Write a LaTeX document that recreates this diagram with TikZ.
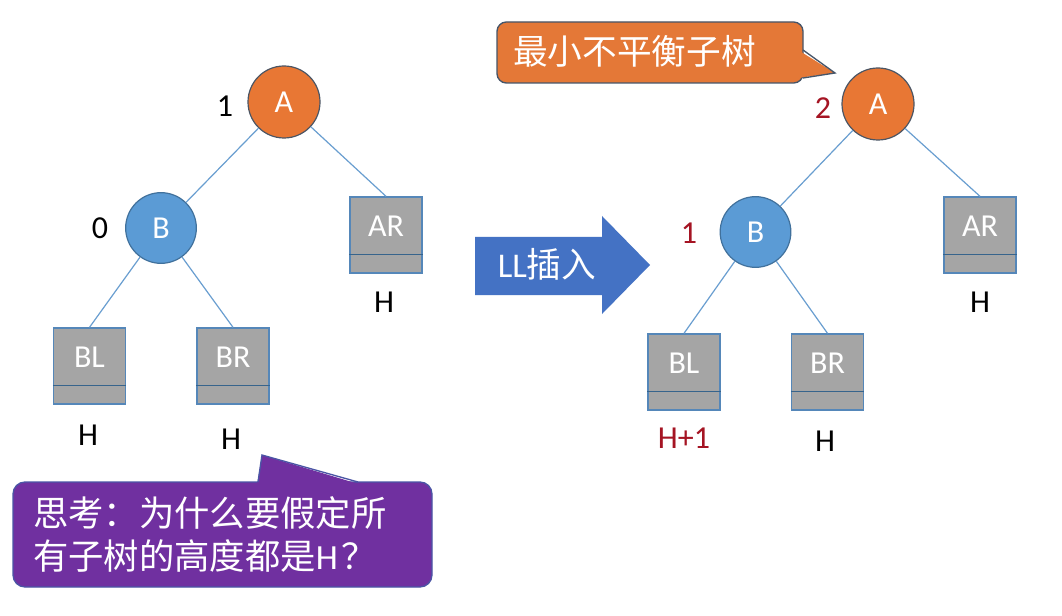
\documentclass[tikz,border=0pt]{standalone}
\usepackage{fontspec}
\setmainfont{Carlito}
\newfontfamily\cjk{Noto Sans CJK SC}
\usetikzlibrary{positioning}
\definecolor{orfill}{RGB}{232,119,52}
\definecolor{orline}{RGB}{75,85,100}
\definecolor{blfill}{RGB}{91,155,213}
\definecolor{blline}{RGB}{65,113,156}
\definecolor{grfill}{RGB}{165,165,165}
\definecolor{grline}{RGB}{85,135,185}
\definecolor{divline}{RGB}{55,100,140}
\definecolor{edgecol}{RGB}{105,158,208}
\definecolor{arrfill}{RGB}{68,114,196}
\definecolor{purfill}{RGB}{112,48,160}
\definecolor{purline}{RGB}{75,85,165}
\definecolor{darkred}{RGB}{165,20,35}
\definecolor{callor}{RGB}{228,120,55}
\definecolor{callorline}{RGB}{70,85,105}
\tikzset{
  lbl/.style={font=\fontsize{24}{28}\selectfont, inner sep=0pt},
  nodeA/.style={circle, draw=orline, line width=0.9pt, fill=orfill, minimum size=54pt, inner sep=0pt, text=white, font=\fontsize{24}{28}\selectfont},
  nodeB/.style={circle, draw=blline, line width=0.9pt, fill=blfill, minimum size=53pt, inner sep=0pt, text=white, font=\fontsize{24}{28}\selectfont},
  sbox/.style={rectangle, draw=grline, line width=1pt, fill=grfill, minimum width=54pt, minimum height=57pt, inner sep=0pt},
  boxtxt/.style={text=white, font=\fontsize{24}{28}\selectfont, inner sep=0pt},
  divider/.style={draw=divline, line width=1pt},
  edge/.style={draw=edgecol, line width=0.9pt},
}
\newcommand{\subtree}[3]{%
  \node[sbox] (#1) at (#2) {};
  \node[boxtxt] (#1t) at ([yshift=6.9pt]#1.center) {#3};
  \draw[divider] ([yshift=14.25pt]#1.south west) -- ([yshift=14.25pt]#1.south east);
}
\begin{document}
\begin{tikzpicture}[x=0.75pt,y=-0.75pt]
\useasboundingbox (0,0) rectangle (1062,616);
\fill[white] (0,0) rectangle (1062,616);

% ---------- left tree ----------
\node[nodeA] (A1) at (284,102) {A};
\node[nodeB] (B1) at (161,228) {B};
\subtree{AR1}{386,235}{AR}
\subtree{BL1}{89.5,366}{BL}
\subtree{BR1}{233,366}{BR}
\draw[edge] (A1) -- (B1);
\draw[edge] (A1) -- (AR1.north);
\draw[edge] (B1) -- (BL1.north);
\draw[edge] (B1) -- (BR1.north);
\node[lbl] (bfA1) at (225,106) {1};
\node[lbl] (bfB1) at (100,228) {0};
\node[lbl] (hAR1) at (384,302) {H};
\node[lbl] (hBL1) at (88,435) {H};
\node[lbl] (hBR1) at (231,439) {H};

% ---------- arrow ----------
\fill[arrfill] (475,237) -- (602,237) -- (602,216) -- (650,265) -- (602,314) -- (602,295) -- (475,295) -- cycle;
\node[text=white, inner sep=0pt, font=\fontsize{26}{29}\selectfont] (llins) at (547,264) {LL{\cjk 插入}};

% ---------- right tree ----------
\node[nodeA] (A2) at (878,104) {A};
\node[nodeB] (B2) at (755.5,232) {B};
\subtree{AR2}{980,235}{AR}
\subtree{BL2}{684,372}{BL}
\subtree{BR2}{827.5,372}{BR}
\draw[edge] (A2) -- (B2);
\draw[edge] (A2) -- (AR2.north);
\draw[edge] (B2) -- (BL2.north);
\draw[edge] (B2) -- (BR2.north);
\node[lbl, text=darkred] (bfA2) at (823,108) {2};
\node[lbl, text=darkred] (bfB2) at (689,233) {1};
\node[lbl] (hAR2) at (980,302) {H};
\node[lbl, text=darkred] (hBL2) at (684,438) {H+1};
\node[lbl] (hBR2) at (825,441) {H};

% ---------- orange callout ----------
\node[rectangle, rounded corners=7pt, draw=callorline, line width=1pt, fill=callor, minimum width=229.5pt, minimum height=45.75pt, inner sep=0pt] (call1) at (650,52.5) {};
\fill[callor] (798,50) -- (835,73) -- (798,78) -- cycle;
\draw[callorline, line width=1pt, line join=miter] (803,50) -- (835,73) -- (803,78);
\node[text=white, inner sep=0pt, anchor=west, font=\cjk\fontsize{26}{30}\selectfont] (call1t) at (513,51) {最小不平衡子树};

% ---------- purple callout ----------
\node[rectangle, rounded corners=9pt, draw=purline, line width=1pt, fill=purfill, minimum width=314.25pt, minimum height=78.75pt, inner sep=0pt] (call2) at (222.5,534.5) {};
\fill[purfill] (257,485) -- (262,455) -- (362,485) -- cycle;
\draw[purline, line width=1pt, line join=miter] (258,482) -- (262,455) -- (358,482);
\node[text=white, inner sep=0pt, anchor=west, align=left, font=\cjk\fontsize{26.5}{32.25}\selectfont] (call2t) at (33,534) {思考：为什么要假定所\\有子树的高度都是{\fontspec{Carlito}H}\hspace{3pt}？};
\end{tikzpicture}
\end{document}
